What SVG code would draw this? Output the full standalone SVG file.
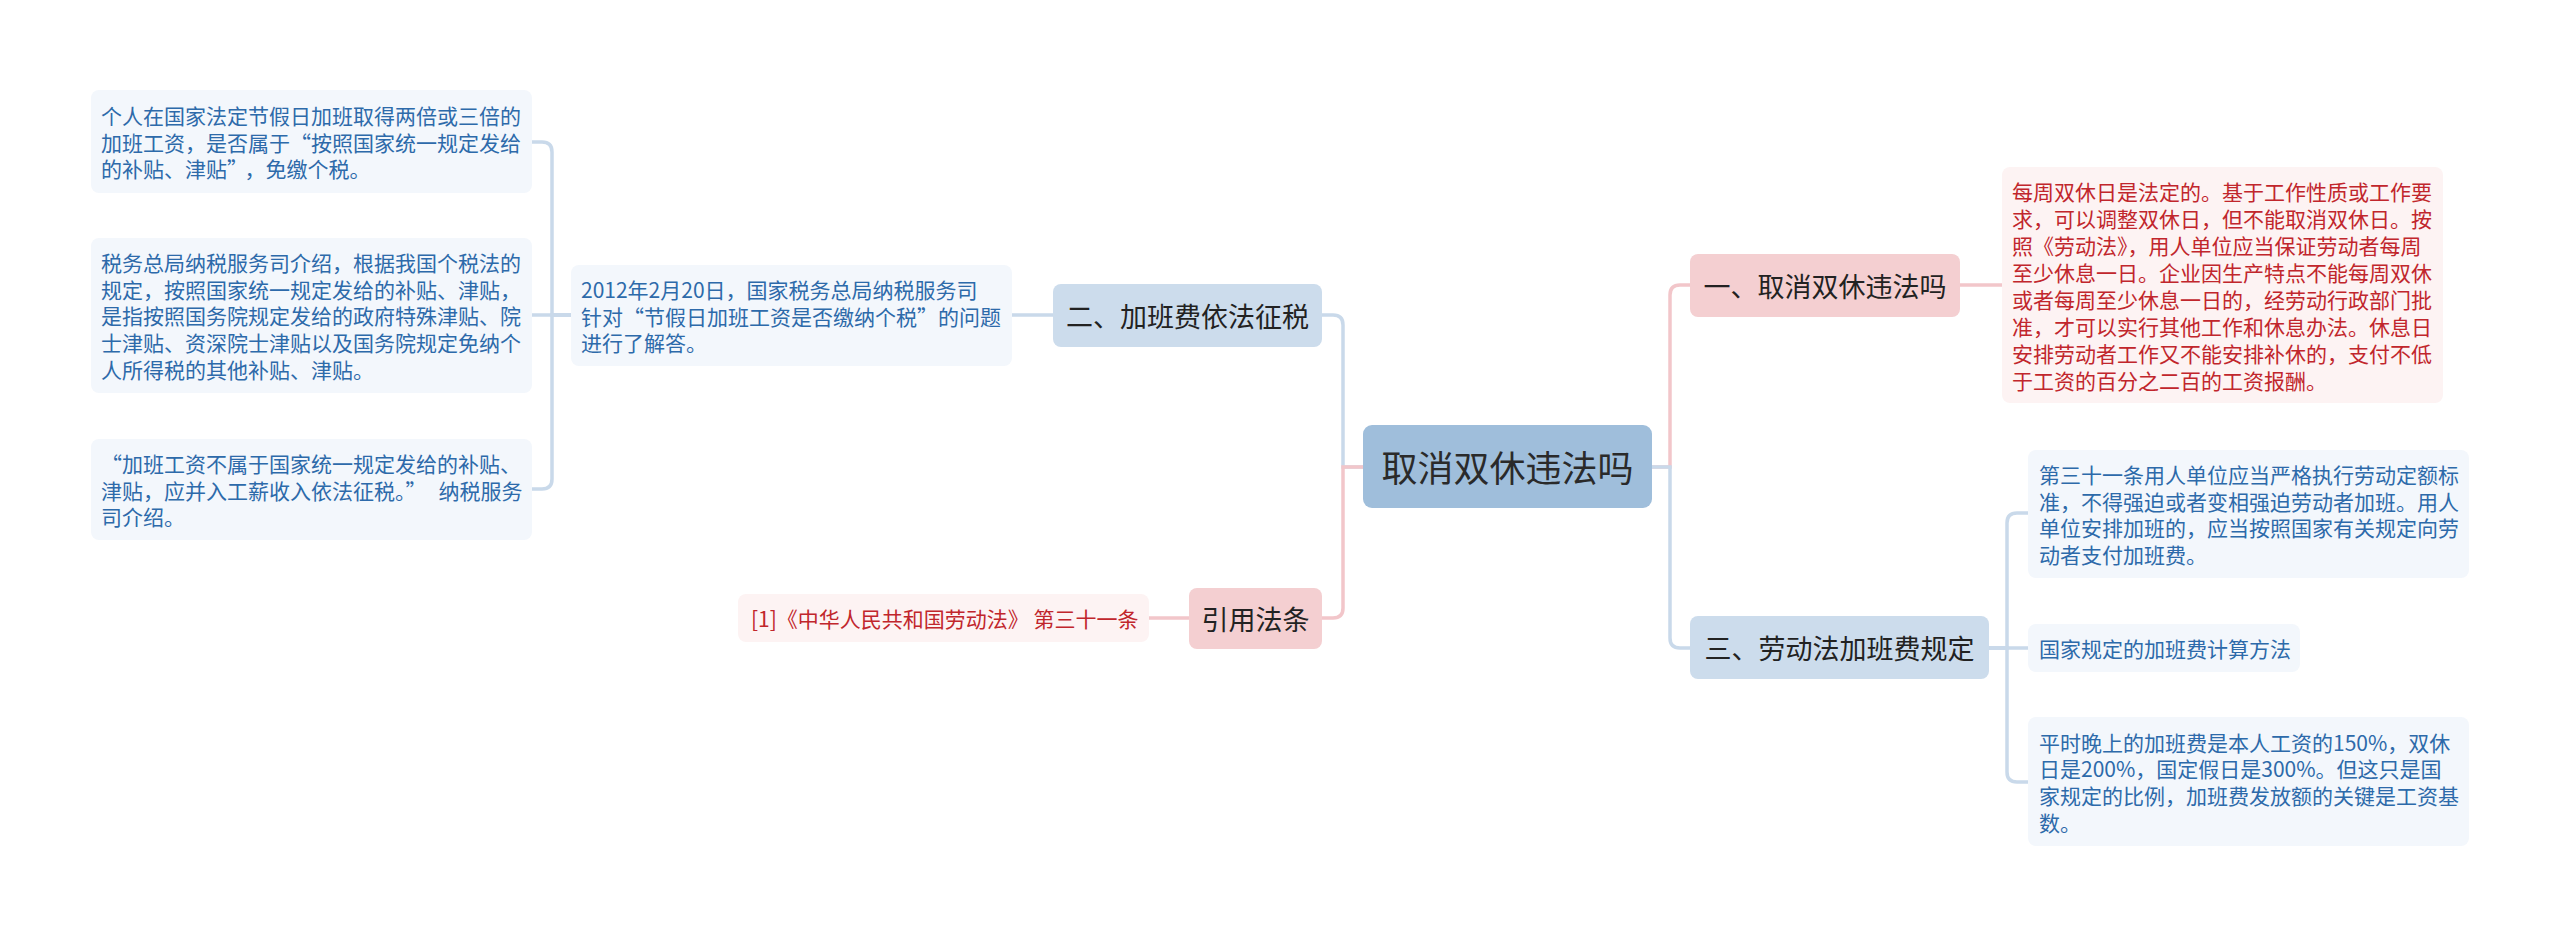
<svg xmlns="http://www.w3.org/2000/svg" width="2560" height="937" viewBox="0 0 2560 937">
<style>
text{font-family:"Noto Sans CJK SC","Noto Sans",sans-serif;dominant-baseline:central}
.q{font-feature-settings:"fwid" 1}
.root{fill:#9fbedb}
.rootT{font-size:36px;fill:#2a2a2a;text-anchor:middle}
.blue1{fill:#ccdcec}
.pink1{fill:#f4cfd1}
.t1{font-size:27px;fill:#222;text-anchor:middle}
.leafB{fill:#f3f7fc}
.leafR{fill:#fdf3f3}
.tb{font-size:21px;fill:#2d6aaa}
.tr{font-size:21px;fill:#c1262c}
.cb{fill:none;stroke:#c9d9ea;stroke-width:3.5}
.cp{fill:none;stroke:#f2c6ca;stroke-width:3.5}
</style>
<rect width="2560" height="937" fill="#ffffff"/>
<g id="connectors">
<path class="cp" d="M1652,467 H1670 V295 Q1670,285 1680,285 H1690"/>
<path class="cb" d="M1363,467 H1343 V325 Q1343,315 1333,315 H1322"/>
<path class="cb" d="M1652,467 H1670 V638 Q1670,648 1680,648 H1690"/>
<path class="cp" d="M1363,467 H1343 V608 Q1343,618 1333,618 H1322"/>
<path class="cp" d="M1960,285 H2002"/>
<path class="cb" d="M1989,648 H2007 V523 Q2007,513 2017,513 H2028"/>
<path class="cb" d="M1989,648 H2028"/>
<path class="cb" d="M1989,648 H2007 V772 Q2007,782 2017,782 H2028"/>
<path class="cb" d="M1053,315 H1012"/>
<path class="cb" d="M571,315 H552 V152 Q552,142 542,142 H532"/>
<path class="cb" d="M571,315 H532"/>
<path class="cb" d="M571,315 H552 V479 Q552,489 542,489 H532"/>
<path class="cp" d="M1189,618 H1149"/>
</g>
<g id="root">
<rect class="root" x="1363" y="425" width="289" height="83" rx="9"/>
<text class="rootT" x="1507.5" y="466">取消双休违法吗</text>
</g>
<g id="n1">
<rect class="pink1" x="1690" y="254" width="270" height="63" rx="8"/>
<text class="t1" x="1825" y="285">一、取消双休违法吗</text>
</g>
<g id="n1a">
<rect class="leafR" x="2002" y="167" width="441" height="236" rx="8"/>
<text class="tr" x="2012" y="190.5">每周双休日是法定的。基于工作性质或工作要</text>
<text class="tr" x="2012" y="217.5">求，可以调整双休日，但不能取消双休日。按</text>
<text class="tr" x="2012" y="244.5">照《劳动法》，用人单位应当保证劳动者每周</text>
<text class="tr" x="2012" y="271.5">至少休息一日。企业因生产特点不能每周双休</text>
<text class="tr" x="2012" y="298.5">或者每周至少休息一日的，经劳动行政部门批</text>
<text class="tr" x="2012" y="325.5">准，才可以实行其他工作和休息办法。休息日</text>
<text class="tr" x="2012" y="352.5">安排劳动者工作又不能安排补休的，支付不低</text>
<text class="tr" x="2012" y="379.5">于工资的百分之二百的工资报酬。</text>
</g>
<g id="n3">
<rect class="blue1" x="1690" y="616" width="299" height="63" rx="8"/>
<text class="t1" x="1839.5" y="647">三、劳动法加班费规定</text>
</g>
<g id="n3a">
<rect class="leafB" x="2028" y="450" width="441" height="128" rx="8"/>
<text class="tb" x="2039" y="474">第三十一条用人单位应当严格执行劳动定额标</text>
<text class="tb" x="2039" y="500.7">准，不得强迫或者变相强迫劳动者加班。用人</text>
<text class="tb" x="2039" y="527.4">单位安排加班的，应当按照国家有关规定向劳</text>
<text class="tb" x="2039" y="554.1">动者支付加班费。</text>
</g>
<g id="n3b">
<rect class="leafB" x="2028" y="624" width="272" height="48" rx="8"/>
<text class="tb" x="2039" y="648">国家规定的加班费计算方法</text>
</g>
<g id="n3c">
<rect class="leafB" x="2028" y="717" width="441" height="129" rx="8"/>
<text class="tb" x="2039" y="741.5">平时晚上的加班费是本人工资的150%，双休</text>
<text class="tb" x="2039" y="768.2">日是200%，国定假日是300%。但这只是国</text>
<text class="tb" x="2039" y="794.9">家规定的比例，加班费发放额的关键是工资基</text>
<text class="tb" x="2039" y="821.6">数。</text>
</g>
<g id="n2">
<rect class="blue1" x="1053" y="284" width="269" height="63" rx="8"/>
<text class="t1" x="1187.5" y="315">二、加班费依法征税</text>
</g>
<g id="n2a">
<rect class="leafB" x="571" y="265" width="441" height="101" rx="8"/>
<text class="tb" x="581" y="289">2012年2月20日，国家税务总局纳税服务司</text>
<text class="tb" x="581" y="315.5">针对<tspan class="q">“</tspan>节假日加班工资是否缴纳个税<tspan class="q">”</tspan>的问题</text>
<text class="tb" x="581" y="342">进行了解答。</text>
</g>
<g id="n2a1">
<rect class="leafB" x="91" y="90" width="441" height="103" rx="8"/>
<text class="tb" x="101" y="115">个人在国家法定节假日加班取得两倍或三倍的</text>
<text class="tb" x="101" y="141.7">加班工资，是否属于<tspan class="q">“</tspan>按照国家统一规定发给</text>
<text class="tb" x="101" y="168.4">的补贴、津贴<tspan class="q">”</tspan><tspan dx="7">，免缴个税。</tspan></text>
</g>
<g id="n2a2">
<rect class="leafB" x="91" y="238" width="441" height="155" rx="8"/>
<text class="tb" x="101" y="262">税务总局纳税服务司介绍，根据我国个税法的</text>
<text class="tb" x="101" y="288.7">规定，按照国家统一规定发给的补贴、津贴，</text>
<text class="tb" x="101" y="315.4">是指按照国务院规定发给的政府特殊津贴、院</text>
<text class="tb" x="101" y="342.1">士津贴、资深院士津贴以及国务院规定免纳个</text>
<text class="tb" x="101" y="368.8">人所得税的其他补贴、津贴。</text>
</g>
<g id="n2a3">
<rect class="leafB" x="91" y="439" width="441" height="101" rx="8"/>
<text class="tb" x="101" y="463"><tspan class="q">“</tspan>加班工资不属于国家统一规定发给的补贴、</text>
<text class="tb" x="101" y="489.7">津贴，应并入工薪收入依法征税。<tspan class="q">”</tspan><tspan dx="12">纳税服务</tspan></text>
<text class="tb" x="101" y="516.4">司介绍。</text>
</g>
<g id="n4">
<rect class="pink1" x="1189" y="588" width="133" height="61" rx="8"/>
<text class="t1" x="1255.5" y="618">引用法条</text>
</g>
<g id="n4a">
<rect class="leafR" x="738" y="594" width="411" height="48" rx="8"/>
<text class="tr" x="751" y="618">[1]《中华人民共和国劳动法》 第三十一条</text>
</g>
</svg>
